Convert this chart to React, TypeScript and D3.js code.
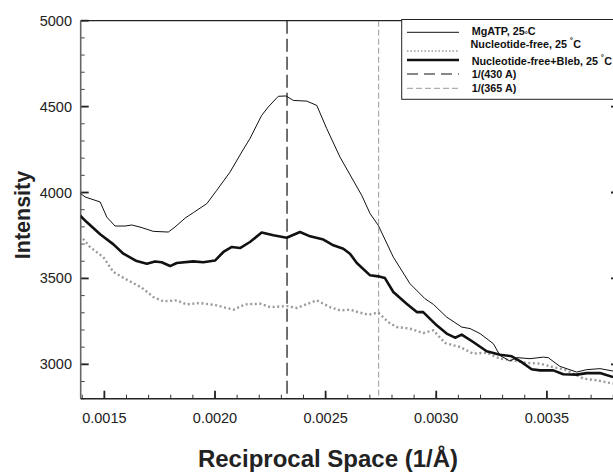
import React from 'react';
import * as d3 from 'd3';

type P = [number, number];

const mgatp: P[] = [
  [0.001390, 3997], [0.001413, 3974], [0.001481, 3945], [0.001511, 3857], [0.001548, 3805],
  [0.001594, 3805], [0.001624, 3811], [0.001661, 3799], [0.001721, 3774], [0.001789, 3770],
  [0.001819, 3799], [0.001865, 3851], [0.001902, 3883], [0.001963, 3935], [0.002008, 4013],
  [0.002068, 4119], [0.002121, 4236], [0.002158, 4314], [0.002211, 4449], [0.002241, 4498],
  [0.002286, 4560], [0.002321, 4562], [0.002354, 4536], [0.002415, 4532], [0.002460, 4507],
  [0.002505, 4372], [0.002565, 4206], [0.002663, 3984], [0.002701, 3877], [0.002738, 3809],
  [0.002806, 3624], [0.002881, 3470], [0.002949, 3382], [0.002987, 3349], [0.003047, 3275],
  [0.003115, 3217], [0.003153, 3208], [0.003198, 3179], [0.003258, 3120], [0.003288, 3052],
  [0.003333, 3019], [0.003364, 3039], [0.003424, 3033], [0.003484, 3042], [0.003506, 3039],
  [0.003559, 2988], [0.003635, 2955], [0.003680, 2969], [0.003740, 2975], [0.003799, 2961],
];

const nucleotideFree: P[] = [
  [0.001390, 3751], [0.001435, 3683], [0.001495, 3624], [0.001541, 3537], [0.001601, 3493],
  [0.001669, 3446], [0.001721, 3392], [0.001767, 3367], [0.001827, 3372], [0.001872, 3349],
  [0.001932, 3357], [0.002008, 3343], [0.002083, 3318], [0.002136, 3349], [0.002204, 3353],
  [0.002249, 3333], [0.002324, 3339], [0.002369, 3328], [0.002460, 3372], [0.002520, 3333],
  [0.002565, 3314], [0.002610, 3318], [0.002655, 3301], [0.002693, 3289], [0.002738, 3301],
  [0.002783, 3246], [0.002821, 3217], [0.002881, 3208], [0.002941, 3182], [0.002987, 3198],
  [0.003040, 3124], [0.003107, 3101], [0.003167, 3062], [0.003228, 3068], [0.003288, 3033],
  [0.003348, 3023], [0.003409, 3008], [0.003469, 3004], [0.003529, 2984], [0.003590, 2965],
  [0.003665, 2917], [0.003725, 2907], [0.003799, 2888],
];

const bleb: P[] = [
  [0.001390, 3867], [0.001420, 3828], [0.001481, 3757], [0.001541, 3698], [0.001586, 3644],
  [0.001646, 3601], [0.001692, 3586], [0.001729, 3599], [0.001759, 3594], [0.001797, 3572],
  [0.001827, 3590], [0.001902, 3599], [0.001947, 3594], [0.002000, 3604], [0.002038, 3654],
  [0.002076, 3683], [0.002113, 3677], [0.002158, 3712], [0.002211, 3767], [0.002264, 3751],
  [0.002324, 3737], [0.002384, 3770], [0.002430, 3745], [0.002490, 3726], [0.002535, 3693],
  [0.002580, 3673], [0.002610, 3644], [0.002641, 3590], [0.002701, 3518], [0.002738, 3512],
  [0.002768, 3502], [0.002806, 3421], [0.002866, 3353], [0.002912, 3304], [0.002941, 3304],
  [0.003002, 3227], [0.003047, 3179], [0.003085, 3155], [0.003115, 3173], [0.003167, 3130],
  [0.003228, 3076], [0.003288, 3056], [0.003341, 3047], [0.003386, 3013], [0.003431, 2971],
  [0.003469, 2965], [0.003529, 2965], [0.003574, 2942], [0.003635, 2940], [0.003680, 2949],
  [0.003740, 2949], [0.003799, 2926],
];

const refSpacings = [430, 365];
const xTicks = [0.0015, 0.002, 0.0025, 0.003, 0.0035];
const yTicks = [3000, 3500, 4000, 4500, 5000];
const xDomain: P = [0.001393, 0.003826];
const yDomain: P = [2800, 5000];

const W = 613;
const H = 473;
const L = 80.7, R = 619, T = 20.7, B = 398.7;
const FONT = "'Liberation Sans', Arial, Helvetica, sans-serif";

export default function App() {
  const x = d3.scaleLinear().domain(xDomain).range([L, R]);
  const y = d3.scaleLinear().domain(yDomain).range([B, T]);
  const line = d3.line<P>().x(d => x(d[0])).y(d => y(d[1]));

  const xMinor = d3.range(14, 39).map(i => i / 10000).filter(v => v >= xDomain[0] && v <= xDomain[1]);
  const yMinor = d3.range(28, 51).map(i => i * 100);

  return (
    <svg width={W} height={H} style={{ position: 'absolute', left: 0, top: 0, background: '#fff' }} fontFamily={FONT}>
      <defs>
        <clipPath id="plot">
          <rect x={L} y={T} width={R - L} height={B - T} />
        </clipPath>
      </defs>
      <rect x={0} y={0} width={W} height={H} fill="#fff" />

      {/* minor ticks */}
      {xMinor.map((v, i) => (
        <line key={'xm' + i} x1={x(v)} x2={x(v)} y1={B} y2={B - 4} stroke="#333" strokeWidth={1} />
      ))}
      {yMinor.map((v, i) => (
        <g key={'ym' + i}>
          <line x1={L} x2={L + 4} y1={y(v)} y2={y(v)} stroke="#444" strokeWidth={1} />
          <line x1={R} x2={R - 4} y1={y(v)} y2={y(v)} stroke="#444" strokeWidth={1} />
        </g>
      ))}
      {/* major ticks */}
      {xTicks.map((v, i) => (
        <g key={'xt' + i}>
          <line x1={x(v)} x2={x(v)} y1={B} y2={B - 8} stroke="#222" strokeWidth={1.8} />
          <text x={x(v)} y={423} textAnchor="middle" fontSize={14.5} fill="#222">{d3.format('.4f')(v)}</text>
        </g>
      ))}
      {yTicks.map((v, i) => (
        <g key={'yt' + i}>
          <line x1={L} x2={L + 8} y1={y(v)} y2={y(v)} stroke="#222" strokeWidth={1.8} />
          <line x1={R} x2={R - 8} y1={y(v)} y2={y(v)} stroke="#222" strokeWidth={1.8} />
          <text x={72} y={y(v) + 5} textAnchor="end" fontSize={14.5} fill="#222">{v}</text>
        </g>
      ))}

      {/* frame */}
      <line x1={L} x2={R} y1={T} y2={T} stroke="#222" strokeWidth={1.3} />
      <line x1={L} x2={L} y1={T} y2={B} stroke="#666" strokeWidth={1.6} />
      <line x1={L} x2={R} y1={B} y2={B} stroke="#222" strokeWidth={1.5} />

      <g clipPath="url(#plot)">
        {/* reference lines */}
        <line x1={x(1 / refSpacings[0])} x2={x(1 / refSpacings[0])} y1={T} y2={B}
          stroke="#222" strokeWidth={1.3} strokeDasharray="13 5" />
        <line x1={x(1 / refSpacings[1])} x2={x(1 / refSpacings[1])} y1={T} y2={B}
          stroke="#999" strokeWidth={1} strokeDasharray="6 3" />
        <path d={line(nucleotideFree) || ''} fill="none" stroke="#9a9a9a" strokeWidth={2.4}
          strokeDasharray="2 2.6" />
        <path d={line(mgatp) || ''} fill="none" stroke="#111" strokeWidth={1} />
        <path d={line(bleb) || ''} fill="none" stroke="#111" strokeWidth={2.6} strokeLinejoin="round" />
      </g>

      {/* legend */}
      <rect x={401.7} y={19.5} width={230} height={79.8} fill="#fff" stroke="#222" strokeWidth={1} />
      <g fontSize={10.8} fontWeight="bold" fill="#111">
        <line x1={407} x2={459} y1={32.3} y2={32.3} stroke="#111" strokeWidth={1} />
        <text x={471.7} y={35.3}>MgATP, 25<tspan fontSize={7.5} dy={2}>°</tspan><tspan dy={-2}>C</tspan></text>

        <line x1={407} x2={459} y1={51} y2={51} stroke="#9a9a9a" strokeWidth={1.5} strokeDasharray="1.5 2" />
        <text x={470.5} y={48}>Nucleotide-free, 25 <tspan fontSize={9.5} dy={-3}>˚</tspan><tspan dy={3}>C</tspan></text>

        <line x1={407} x2={459} y1={60} y2={60} stroke="#111" strokeWidth={2.4} />
        <text x={471.7} y={65.3}>Nucleotide-free+Bleb, 25 <tspan fontSize={9.5} dy={-3}>˚</tspan><tspan dy={3}>C</tspan></text>

        <line x1={407} x2={459} y1={74} y2={74} stroke="#111" strokeWidth={1.2} strokeDasharray="11 6" />
        <text x={471.7} y={78.2}>1/(430 A)</text>

        <line x1={407} x2={459} y1={88.3} y2={88.3} stroke="#999" strokeWidth={1} strokeDasharray="6 3" />
        <text x={471.7} y={92.2}>1/(365 A)</text>
      </g>

      {/* axis titles */}
      <text x={328} y={466.7} textAnchor="middle" fontSize={24} fontWeight="bold" fill="#222">Reciprocal Space (1/Å)</text>
      <text transform="translate(29.5,215) rotate(-90)" textAnchor="middle" fontSize={21.5} fontWeight="bold" fill="#222">Intensity</text>
    </svg>
  );
}
